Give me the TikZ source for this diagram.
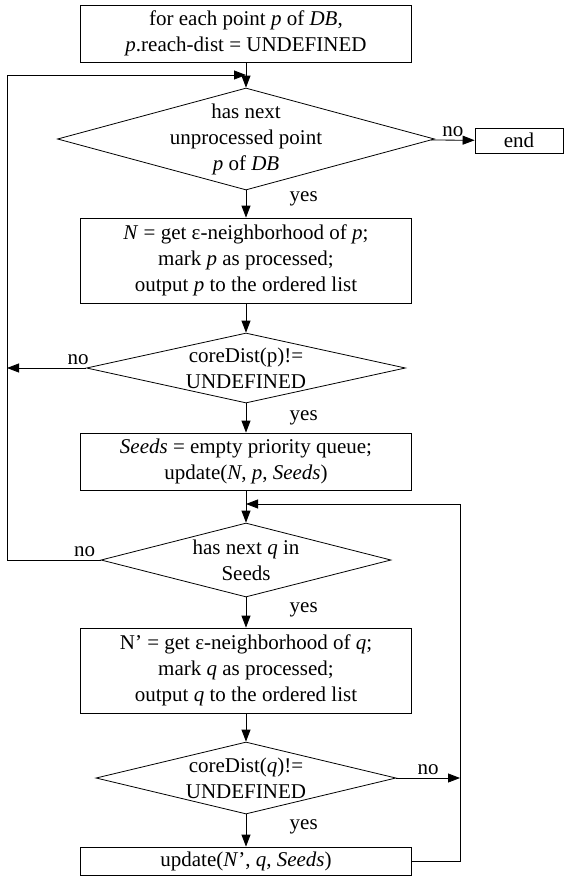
\documentclass[tikz,border=0pt]{standalone}
\usepackage{fontspec}
\setmainfont{Liberation Serif}
\usetikzlibrary{shapes.geometric, arrows.meta}

\begin{document}
\begin{tikzpicture}[x=1pt, y=-1pt, font=\fontsize{21}{26}\selectfont, line width=0.8pt,
  block/.style={draw, rectangle, minimum width=331pt, align=center, inner sep=0pt},
  decision/.style={draw, diamond, inner sep=0pt},
  flow/.style={-{Triangle[length=12pt,width=9pt]}}]
\useasboundingbox (0,0) rectangle (566,876);

% blocks
\node [block, minimum height=57pt] (b1) at (246,33.5) {for each point \textit{p} of \textit{DB},\\\textit{p}.reach-dist = UNDEFINED};
\node [decision, minimum width=377pt, minimum height=102pt,
  label={[align=center]center:has next\\unprocessed point\\\textit{p} of \textit{DB}}] (d1) at (246,139) {};
\node [draw, minimum width=88pt, minimum height=25pt, inner sep=0pt] (end) at (519,140.5) {end};
\node [block, minimum height=85pt] (b2) at (246,260.5) {\textit{N} = get ε-neighborhood of \textit{p};\\mark \textit{p} as processed;\\output \textit{p} to the ordered list};
\node [decision, minimum width=319pt, minimum height=70pt,
  label={[align=center]center:coreDist(p)!=\\UNDEFINED}] (d2) at (246,368) {};
\node [block, minimum height=57pt] (b3) at (246,461.5) {\textit{Seeds} = empty priority queue;\\update(\textit{N}, \textit{p}, \textit{Seeds})};
\node [decision, minimum width=290pt, minimum height=74pt,
  label={[align=center]center:has next \textit{q} in\\Seeds}] (d3) at (246,560) {};
\node [block, minimum height=85pt] (b4) at (246,670.5) {N’ = get ε-neighborhood of \textit{q};\\mark \textit{q} as processed;\\output \textit{q} to the ordered list};
\node [decision, minimum width=300pt, minimum height=72pt,
  label={[align=center]center:coreDist(\textit{q})!=\\UNDEFINED}] (d4) at (246,778) {};
\node [block, minimum height=28pt] (b5) at (246,861) {update(\textit{N}’, \textit{q}, \textit{Seeds})};

% junctions
\coordinate (j1) at (246,75);
\coordinate (j2) at (246,504);
\coordinate (l1) at (7,560);
\coordinate (l2) at (7,75);
\coordinate (l3) at (7,368);
\coordinate (r1) at (460,778);
\coordinate (r2) at (460,861);
\coordinate (r3) at (460,504);

% connections
\draw [flow] (b1) -- (d1);
\draw [flow] (d1) -- node [above] {no} (end);
\draw [flow] (d1) -- node [pos=0.3, right=40pt] {yes} (b2);
\draw [flow] (b2) -- (d2);
\draw [flow] (d2.west) -- node [above, pos=0.1] {no} (l3);
\draw [flow] (d2) -- node [pos=0.5, right=40pt] {yes} (b3);
\draw [flow] (b3) -- (d3);
\draw [flow] (d3.west) -- node [above, pos=0.17] {no} (l1) -- (l2) -- (j1);
\draw [flow] (d3) -- node [pos=0.4, right=40pt] {yes} (b4);
\draw [flow] (b4) -- (d4);
\draw [flow] (d4.east) -- node [above] {no} (r1);
\draw [flow] (d4) -- node [pos=0.4, right=40pt] {yes} (b5);
\draw [flow] (b5.east) -- (r2) -- (r3) -- (j2);
\end{tikzpicture}
\end{document}
